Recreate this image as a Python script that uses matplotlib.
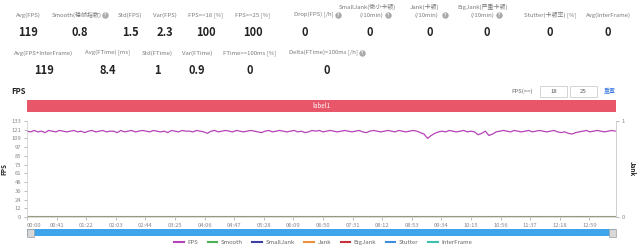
import numpy as np
import matplotlib
matplotlib.use("Agg")
import matplotlib.pyplot as plt
from matplotlib.patches import Rectangle
from matplotlib.lines import Line2D

plt.rcParams['font.family'] = ['Noto Sans CJK SC', 'DejaVu Sans']

# ---- summary metrics (header) ----
row1_labels = ["Avg(FPS)", "Smooth(稳帧指数)", "Std(FPS)", "Var(FPS)", "FPS>=18 [%]",
               "FPS>=25 [%]", "Drop(FPS) [/h]", "SmallJank(微小卡顿)\n(/10min)",
               "Jank(卡顿)\n(/10min)", "BigJank(严重卡顿)\n(/10min)",
               "Stutter(卡顿率) [%]", "Avg(InterFrame)"]
row1_values = ["119", "0.8", "1.5", "2.3", "100", "100", "0", "0", "0", "0", "0", "0"]
row2_labels = ["Avg(FPS+InterFrame)", "Avg(FTime) [ms]", "Std(FTime)", "Var(FTime)",
               "FTime>=100ms [%]", "Delta(FTime)>100ms [/h]"]
row2_values = ["119", "8.4", "1", "0.9", "0", "0"]

# ---- FPS series, one sample every 5 s ----
sample_step = 5
fps = [119, 118, 120, 118, 119, 117, 120, 119, 118, 120, 119, 118, 119, 120, 118, 119, 117, 119, 120, 118,
       119, 120, 118, 119, 119, 117, 120, 118, 119, 120, 118, 119, 120, 119, 118, 120, 119, 118, 119, 117,
       120, 119, 118, 120, 119, 119, 118, 120, 119, 118, 116, 119, 120, 118, 119, 120, 119, 118, 120, 119,
       118, 119, 120, 119, 118, 117, 119, 120, 118, 119, 120, 119, 118, 119, 120, 118, 119, 117, 118, 120,
       119, 120, 118, 119, 120, 119, 118, 119, 120, 119, 118, 119, 120, 118, 117, 119, 120, 119, 118, 119,
       120, 119, 118, 120, 119, 118, 119, 120, 119, 117, 115, 109, 113, 116, 118, 119, 118, 120, 119, 118,
       119, 120, 118, 119, 118, 114, 116, 119, 113, 115, 118, 119, 120, 119, 118, 120, 119, 118, 119, 120,
       118, 119, 120, 119, 118, 119, 120, 118, 117, 118, 116, 115, 117, 118, 119, 120, 118, 119, 120, 119,
       118, 119, 120, 119]
smooth = [0.8] * len(fps)
zero_series = [0] * len(fps)

legend_names = ["FPS", "Smooth", "SmallJank", "Jank", "BigJank", "Stutter", "InterFrame"]
legend_colors = ["#b543b8", "#4caf50", "#3b3fa6", "#f0903c", "#c8323c", "#3d8ee0", "#3cc0b0"]

fps_max = 133.1
fps_ticks = [12.1 * i for i in range(12)]
tick_step_s = 41
x_end = 816

fig = plt.figure(figsize=(6.4, 2.48), dpi=100)

# overlay in pixel coordinates for the dashboard furniture
ov = fig.add_axes([0, 0, 1, 1])
ov.set_xlim(0, 640)
ov.set_ylim(248, 0)
ov.axis("off")

lab_col = "#7a7a7a"
val_col = "#222222"


def help_icon(x, y):
    ov.plot(x, y, "o", ms=3.6, color="#a8a8a8")
    ov.text(x, y + 0.3, "?", ha="center", va="center", fontsize=3, color="white", fontweight="bold")


row1_x = [28, 80, 130, 165, 206, 253, 305, 370, 430, 487, 550, 608]
# labels followed by a help icon: (right end of label, icon x, centre of first line)
row1_lab = {1: (102, 105, None), 6: (334, 338, None), 7: (383, 388, 367),
            8: (438, 445, 424), 9: (494, 499, 483)}
for i, (x, lab, val) in enumerate(zip(row1_x, row1_labels, row1_values)):
    lines = lab.split("\n")
    if i in row1_lab:
        end, icon, top_c = row1_lab[i]
        if len(lines) == 2:
            ov.text(top_c, 7, lines[0], ha="center", va="center", fontsize=4.3, color=lab_col)
            ov.text(end, 15, lines[1], ha="right", va="center", fontsize=4.3, color=lab_col)
        else:
            ov.text(end, 15, lab, ha="right", va="center", fontsize=4.3, color=lab_col)
        help_icon(icon, 15)
    else:
        ov.text(x, 15, lab, ha="center", va="center", fontsize=4.3, color=lab_col)
    ov.text(x, 32, val, ha="center", va="center", fontsize=8, color=val_col, fontweight="bold")

row2_x = [44, 108, 157, 197, 250, 327]
for i, (x, lab, val) in enumerate(zip(row2_x, row2_labels, row2_values)):
    if i == len(row2_labels) - 1:
        ov.text(358, 53, lab, ha="right", va="center", fontsize=4.3, color=lab_col)
        help_icon(362, 53)
    else:
        ov.text(x, 53, lab, ha="center", va="center", fontsize=4.3, color=lab_col)
    ov.text(x, 70, val, ha="center", va="center", fontsize=8, color=val_col, fontweight="bold")

ov.text(11, 91, "FPS", ha="left", va="center", fontsize=5.5, fontweight="bold", color="#222222")

# FPS threshold controls
ov.text(522, 91, "FPS(>=)", ha="center", va="center", fontsize=4.3, color="#666666")
for x0, txt in [(540, "18"), (570, "25")]:
    ov.add_patch(Rectangle((x0, 86), 27, 11, facecolor="white", edgecolor="#cccccc", lw=0.6))
    ov.text(x0 + 13.5, 91.5, txt, ha="center", va="center", fontsize=4.3, color="#555555")
ov.text(610, 91, "重置", ha="center", va="center", fontsize=4.3, color="#3d7be0")

# label band
ov.add_patch(Rectangle((27, 100), 589, 12, facecolor="#e8566a", edgecolor="none"))
ov.text(321, 106, "label1", ha="center", va="center", fontsize=4.5, color="white")

# zoom slider
ov.add_patch(Rectangle((27, 229), 589, 7, facecolor="#3ea5ea", edgecolor="none"))
for hx in [27, 609]:
    ov.add_patch(Rectangle((hx, 228.5), 7, 8, facecolor="#d8d8d8", edgecolor="#a0a0a0", lw=0.5))

# ---- main chart ----
ax = fig.add_axes([27 / 640, 1 - 217 / 248, 589 / 640, 96 / 248])
t = np.arange(len(fps)) * sample_step
for name, col in zip(legend_names[2:], legend_colors[2:]):
    ax.plot(t, zero_series, color=col, lw=0.6, alpha=0.35)
ax.plot(t, smooth, color="#9a9a80", lw=0.8)
ax.plot(t, fps, color=legend_colors[0], lw=0.9)

ax.set_xlim(0, x_end)
ax.set_ylim(0, fps_max)
ax.set_yticks(fps_ticks)
ax.set_yticklabels([str(int(v + 0.5)) for v in fps_ticks])
xt = list(range(0, x_end, tick_step_s))
ax.set_xticks(xt)
ax.set_xticklabels(["%02d:%02d" % (s // 60, s % 60) for s in xt])
ax.tick_params(axis="both", labelsize=4.2, colors="#888888", length=2, width=0.4, pad=2)
ax.get_xticklabels()[0].set_horizontalalignment("left")
ax.spines["top"].set_visible(False)
for side in ["left", "right", "bottom"]:
    ax.spines[side].set_color("#cccccc")
    ax.spines[side].set_linewidth(0.5)
ax.set_ylabel("FPS", fontsize=4.5, fontweight="bold", labelpad=3, color="#222222")

ax2 = ax.twinx()
ax2.set_ylim(0, 1)
ax2.set_yticks([0, 1])
ax2.tick_params(axis="y", labelsize=4.2, colors="#888888", length=2, width=0.4, pad=2)
for side in ["top", "left", "bottom"]:
    ax2.spines[side].set_visible(False)
ax2.spines["right"].set_color("#cccccc")
ax2.spines["right"].set_linewidth(0.5)
ax2.set_ylabel("Jank", fontsize=4.5, fontweight="bold", rotation=270, labelpad=8, color="#222222")

# legend
handles = [Line2D([0], [0], color=c, lw=1.5) for c in legend_colors]
fig.legend(handles, legend_names, loc="center", bbox_to_anchor=(0.505, 1 - 242 / 248),
           ncol=7, frameon=False, fontsize=4.3, handlelength=1.6, handletextpad=0.6,
           columnspacing=1.6, labelcolor="#666666")

fig.savefig("out.png", dpi=100)
